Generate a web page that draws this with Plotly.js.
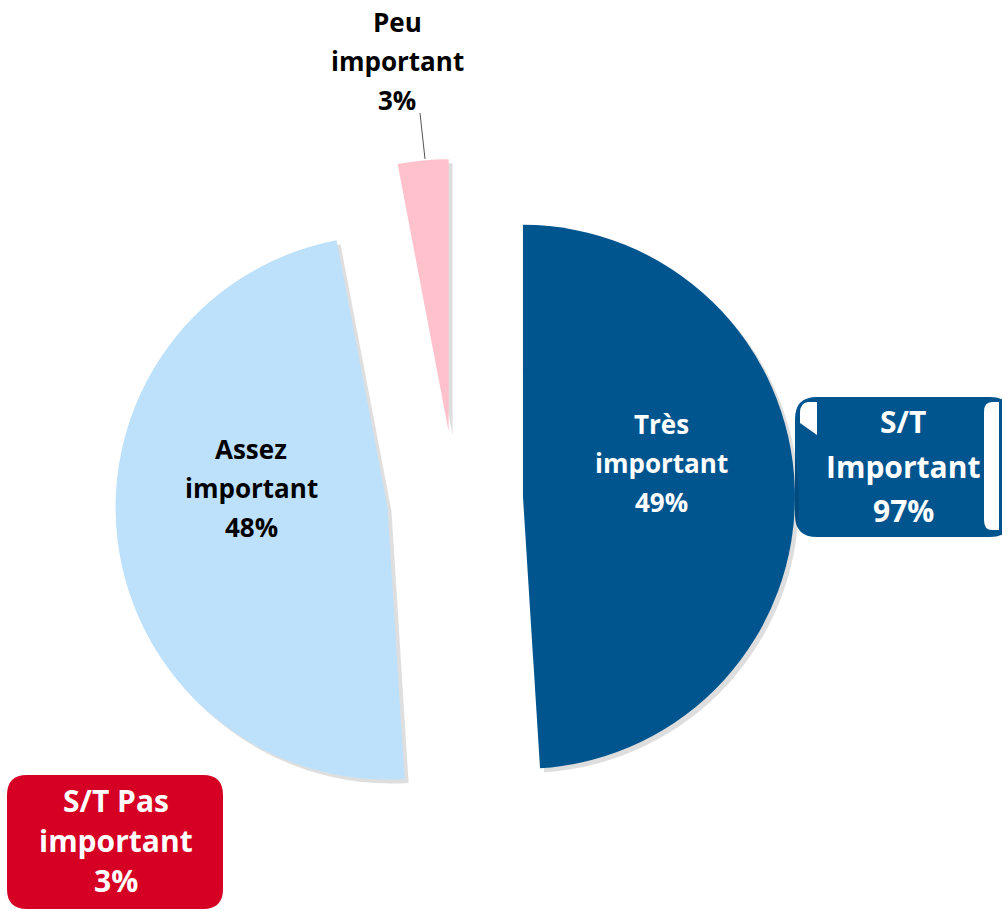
<!DOCTYPE html>
<html>
<head>
<meta charset="utf-8">
<script src="https://cdn.plot.ly/plotly-3.0.1.min.js"></script>
<style>html,body{margin:0;padding:0;background:#fff;}#chart{width:1002px;height:911px;}</style>
</head>
<body>
<div id="chart"></div>
<script>
// ---- data ----
const sliceLabels = ['Très<br>important', 'Assez<br>important', 'Peu<br>important'];
const sliceValues = [49, 48, 3];
const sliceColors = ['#01558F', '#BEE1FB', '#FFC1CC'];
const groupLabels = ['S/T<br>Important', 'S/T Pas<br>important'];
const groupValues = [97, 3];

// ---- layout geometry (pixels) ----
const W = 1002, H = 911;
const CX = 455, CY = 499, R = 272, PULL = 0.25;
const half = R * (1 + PULL);
const px = x => x / W;
const py = y => 1 - y / H;

const sliceText = [
  {x: 661, base: [434, 473, 512], color: '#FFFFFF'},
  {x: 251, base: [459, 498, 537], color: '#000000'},
  {x: 397, base: [32, 71, 110], color: '#000000'}
];
const groupBox = [
  {x0: 795, y0: 397, x1: 1012, y1: 537, rad: 22, fill: '#01558F', tx: 903, base: [433, 478, 522]},
  {x0: 7, y0: 775, x1: 223, y1: 909, rad: 20, fill: '#D50023', tx: 116, base: [812, 852, 892]}
];

const dom = {
  x: [px(CX - half), px(CX + half)],
  y: [py(CY + half), py(CY - half)]
};
const shadowOff = 4;
const domShadow = {
  x: [px(CX - half + shadowOff), px(CX + half + shadowOff)],
  y: [py(CY + half + shadowOff), py(CY - half + shadowOff)]
};

const traces = [
  {
    type: 'pie', values: sliceValues, labels: sliceLabels,
    sort: false, direction: 'clockwise', rotation: 0,
    pull: sliceValues.map(() => PULL),
    marker: {colors: sliceValues.map(() => 'rgba(0,0,0,0.13)')},
    textinfo: 'none', hoverinfo: 'skip', domain: domShadow, showlegend: false
  },
  {
    type: 'pie', values: sliceValues, labels: sliceLabels,
    sort: false, direction: 'clockwise', rotation: 0,
    pull: sliceValues.map(() => PULL),
    marker: {colors: sliceColors, line: {width: 0}},
    textinfo: 'none', hoverinfo: 'skip', domain: dom, showlegend: false
  }
];

function lineAnn(text, x, base, size, color) {
  return {
    xref: 'paper', yref: 'paper', x: px(x), y: py(base - 0.39 * size),
    xanchor: 'center', yanchor: 'middle', showarrow: false,
    text: text, font: {family: 'Open Sans', size: size, color: color, weight: 700}
  };
}

const annotations = [];
sliceLabels.forEach((lab, i) => {
  const lines = lab.split('<br>').concat([sliceValues[i] + '%']);
  lines.forEach((t, j) => annotations.push(lineAnn(t, sliceText[i].x, sliceText[i].base[j], 26, sliceText[i].color)));
});
groupLabels.forEach((lab, i) => {
  const lines = lab.split('<br>').concat([groupValues[i] + '%']);
  lines.forEach((t, j) => annotations.push(lineAnn(t, groupBox[i].tx, groupBox[i].base[j], 30, '#FFFFFF')));
});

function roundRect(b) {
  const r = b.rad;
  const P = (x, y) => px(x) + ',' + py(y);
  return 'M' + P(b.x0 + r, b.y0) + ' L' + P(b.x1 - r, b.y0) + ' Q' + P(b.x1, b.y0) + ' ' + P(b.x1, b.y0 + r) +
    ' L' + P(b.x1, b.y1 - r) + ' Q' + P(b.x1, b.y1) + ' ' + P(b.x1 - r, b.y1) +
    ' L' + P(b.x0 + r, b.y1) + ' Q' + P(b.x0, b.y1) + ' ' + P(b.x0, b.y1 - r) +
    ' L' + P(b.x0, b.y0 + r) + ' Q' + P(b.x0, b.y0) + ' ' + P(b.x0 + r, b.y0) + ' Z';
}
const P2 = (x, y) => px(x) + ',' + py(y);
const shapes = groupBox.map(b => ({
  type: 'path', xref: 'paper', yref: 'paper', path: roundRect(b),
  fillcolor: b.fill, line: {width: 0}, layer: 'below'
}));
// white notches in the blue callout
shapes.push({type: 'path', xref: 'paper', yref: 'paper', layer: 'below', fillcolor: '#FFFFFF', line: {width: 0},
  path: 'M' + P2(817, 402) + ' L' + P2(808, 402) + ' Q' + P2(800, 403) + ' ' + P2(800, 413) + ' L' + P2(800, 423) + ' L' + P2(817, 435) + ' Z'});
shapes.push({type: 'path', xref: 'paper', yref: 'paper', layer: 'below', fillcolor: '#FFFFFF', line: {width: 0},
  path: 'M' + P2(999, 402) + ' L' + P2(992, 402) + ' Q' + P2(984, 402) + ' ' + P2(984, 412) + ' L' + P2(984, 520) + ' Q' + P2(984, 530) + ' ' + P2(992, 530) + ' L' + P2(999, 530) + ' Z'});
// leader line for the small slice
shapes.push({type: 'line', xref: 'paper', yref: 'paper', x0: px(420), y0: py(113), x1: px(425), y1: py(159),
  line: {color: '#555555', width: 1}});

const layout = {
  width: W, height: H,
  margin: {l: 0, r: 0, t: 0, b: 0, pad: 0},
  paper_bgcolor: '#FFFFFF', plot_bgcolor: '#FFFFFF',
  showlegend: false,
  annotations: annotations,
  shapes: shapes
};

Plotly.newPlot('chart', traces, layout, {displayModeBar: false, staticPlot: true});
</script>
</body>
</html>
